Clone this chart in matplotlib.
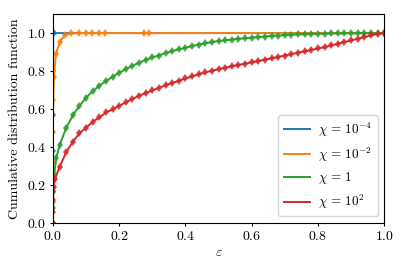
import numpy as np
import matplotlib
matplotlib.use("Agg")
from matplotlib import pyplot as plt

plt.rcParams["font.family"] = "serif"
plt.rcParams["font.serif"] = ["cmr10", "DejaVu Serif"]
plt.rcParams["mathtext.fontset"] = "cm"
plt.rcParams["axes.unicode_minus"] = False
plt.rcParams["axes.formatter.use_mathtext"] = True
plt.rcParams["font.size"] = 10

labels = [r"$\chi\,=\,10^{-4}$", r"$\chi\,=\,10^{-2}$", r"$\chi\,=\,1$", r"$\chi\,=\,10^{2}$"]

eps_blue = [0.0, 0.0, 0.0, 0.0, 0.0, 0.0, 0.001, 0.002, 1.0]
cdf_blue = [0.0, 0.165, 0.25, 0.38, 0.568, 0.80, 1.0, 1.0, 1.0]

eps_orange = [0.0, 0.0, 0.0, 0.0, 0.001, 0.003, 0.009, 0.021, 0.036, 0.056,
              0.079, 0.099, 0.119, 0.139, 0.157, 0.276, 0.29, 1.0]
cdf_orange = [0.0, 0.11, 0.32, 0.48, 0.65, 0.77, 0.89, 0.954, 0.99, 0.998,
              1.0, 1.0, 1.0, 1.0, 1.0, 1.0, 1.0, 1.0]

eps_grid = [round(0.02 * i, 2) for i in range(1, 51)]

eps_green = [0.0, 0.0, 0.001, 0.004, 0.01] + eps_grid
cdf_green = [0.0, 0.08, 0.17, 0.26, 0.34,
             0.41, 0.50, 0.567, 0.616, 0.66, 0.693, 0.723, 0.747, 0.77, 0.791,
             0.81, 0.828, 0.844, 0.858, 0.872, 0.882, 0.895, 0.905, 0.914, 0.923,
             0.932, 0.939, 0.946, 0.953, 0.958, 0.962, 0.966, 0.970, 0.973, 0.976,
             0.979, 0.982, 0.985, 0.987, 0.989, 0.991, 0.993, 0.994, 0.995, 0.996,
             0.997, 0.998, 0.998, 0.999, 0.999, 0.999, 1.0, 1.0, 1.0, 1.0]

eps_red = [0.0, 0.0, 0.0, 0.002, 0.006] + eps_grid
cdf_red = [0.0, 0.06, 0.12, 0.19, 0.23,
           0.296, 0.372, 0.428, 0.472, 0.502, 0.533, 0.556, 0.582, 0.598, 0.617,
           0.635, 0.653, 0.670, 0.684, 0.698, 0.712, 0.725, 0.737, 0.749, 0.761,
           0.772, 0.783, 0.793, 0.802, 0.81, 0.818, 0.825, 0.832, 0.839, 0.846,
           0.853, 0.860, 0.867, 0.874, 0.882, 0.889, 0.897, 0.904, 0.911, 0.919,
           0.926, 0.935, 0.944, 0.953, 0.961, 0.970, 0.979, 0.988, 0.995, 1.0]

series = [(eps_blue, cdf_blue, slice(0, -1)),
          (eps_orange, cdf_orange, slice(0, -1)),
          (eps_green, cdf_green, slice(None)),
          (eps_red, cdf_red, slice(None))]
colors = ["C0", "C1", "C2", "C3"]

fig = plt.figure(figsize=(4.07, 2.71), dpi=100)
ax = fig.add_axes([0.130, 0.177, 0.814, 0.771])

for (x, y, mk), c, lab in zip(series, colors, labels):
    ax.plot(x, y, color=c, lw=1.4, label=lab)
    # thin diamonds read as little crosses on the line
    ax.plot(np.array(x)[mk], np.array(y)[mk], ls="none", marker="d",
            ms=4.5, mew=0, color=c, alpha=0.85)

ax.set_xlim(0, 1)
ax.set_ylim(0, 1.1)
ax.set_xticks([0, 0.2, 0.4, 0.6, 0.8, 1.0])
ax.set_yticks([0, 0.2, 0.4, 0.6, 0.8, 1.0])
ax.tick_params(length=2.5, pad=2.5)
ax.set_xlabel(r"$\varepsilon$", labelpad=3)
ax.set_ylabel("Cumulative distribution function")
ax.legend(loc="lower right", fontsize=9.5, handletextpad=0.6)

fig.savefig("out.png", dpi=100)
